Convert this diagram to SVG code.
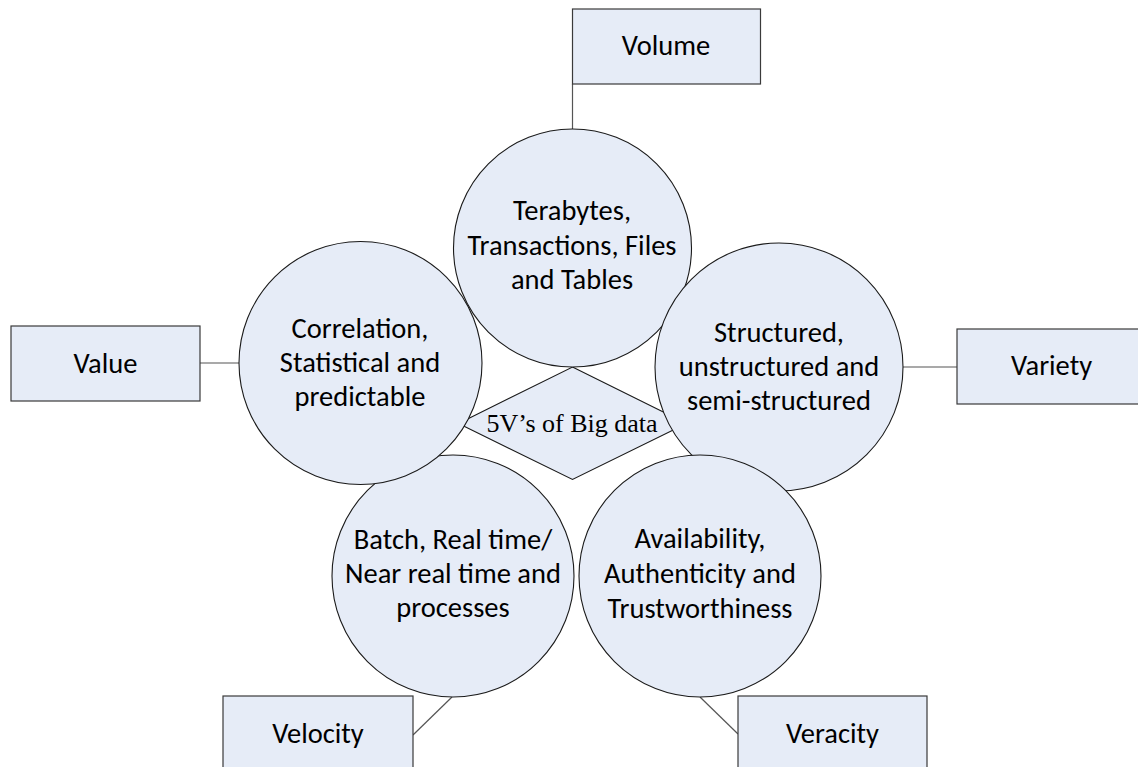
<svg xmlns="http://www.w3.org/2000/svg" width="1138" height="767" viewBox="0 0 1138 767">
<style>
.box{fill:#E6ECF7;stroke:#3a3a3a;stroke-width:1.2}
.circ{fill:#E6ECF7;stroke:#1a1a1a;stroke-width:1.1}
.dia{fill:#E6ECF7;stroke:#1a1a1a;stroke-width:1.1}
.t{font-family:Calibri,Carlito,Lato,"Liberation Sans",sans-serif;font-size:28.5px;fill:#000;text-anchor:middle}
.d{font-family:"Liberation Serif","Times New Roman",serif;font-size:26px;fill:#000;text-anchor:middle}
.ln{stroke:#555;stroke-width:1.2;fill:none}
</style>
<rect width="1138" height="767" fill="#fff"/>
<g id="connectors">
<line class="ln" x1="572.5" y1="84" x2="572.5" y2="129"/>
<line class="ln" x1="200" y1="363" x2="239" y2="363"/>
<line class="ln" x1="903" y1="367" x2="957" y2="367"/>
<line class="ln" x1="452" y1="697" x2="413" y2="735"/>
<line class="ln" x1="700" y1="697" x2="738" y2="734"/>
</g>
<g id="center">
<polygon class="dia" points="572.5,367 686.5,423.5 572.5,479.5 458.5,423.5"/>
<text class="d" x="572" y="432">5V’s of Big data</text>
</g>
<g id="velocity-circle">
<circle class="circ" cx="453" cy="576" r="121"/>
<text class="t" x="453" y="549">Batch, Real time/</text>
<text class="t" x="453" y="583">Near real time and</text>
<text class="t" x="453" y="617">processes</text>
</g>
<g id="value-circle">
<circle class="circ" cx="360.5" cy="363" r="121.5"/>
<text class="t" x="360" y="338">Correlation,</text>
<text class="t" x="360" y="372">Statistical and</text>
<text class="t" x="360" y="406">predictable</text>
</g>
<g id="volume-circle">
<circle class="circ" cx="572.5" cy="248" r="119"/>
<text class="t" x="572" y="220">Terabytes,</text>
<text class="t" x="572" y="254.5">Transactions, Files</text>
<text class="t" x="572" y="289">and Tables</text>
</g>
<g id="variety-circle">
<circle class="circ" cx="779" cy="367" r="124"/>
<text class="t" x="779" y="341.5">Structured,</text>
<text class="t" x="779" y="375.5">unstructured and</text>
<text class="t" x="779" y="409.5">semi-structured</text>
</g>
<g id="veracity-circle">
<circle class="circ" cx="700" cy="576" r="121"/>
<text class="t" x="700" y="548">Availability,</text>
<text class="t" x="700" y="583">Authenticity and</text>
<text class="t" x="700" y="618">Trustworthiness</text>
</g>
<g id="volume-box">
<rect class="box" x="572.5" y="9" width="188" height="75"/>
<text class="t" x="666" y="55">Volume</text>
</g>
<g id="value-box">
<rect class="box" x="11" y="326" width="189" height="75"/>
<text class="t" x="105.5" y="373">Value</text>
</g>
<g id="variety-box">
<rect class="box" x="957" y="329" width="189" height="75"/>
<text class="t" x="1051.5" y="375">Variety</text>
</g>
<g id="velocity-box">
<rect class="box" x="223" y="696" width="190" height="75"/>
<text class="t" x="318" y="743">Velocity</text>
</g>
<g id="veracity-box">
<rect class="box" x="738" y="696" width="189" height="75"/>
<text class="t" x="832.5" y="743">Veracity</text>
</g>
</svg>
